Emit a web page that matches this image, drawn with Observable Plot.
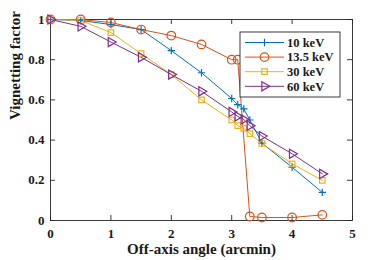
<!DOCTYPE html>
<html><head><meta charset="utf-8">
<script src="https://cdn.jsdelivr.net/npm/d3@7"></script>
<script src="https://cdn.jsdelivr.net/npm/@observablehq/plot@0.6"></script>
<style>
html,body{margin:0;padding:0;background:#fff;}
#chart{width:390px;height:260px;}
#chart svg, #chart svg text { font-family: "Liberation Serif", "DejaVu Serif", serif !important; font-weight: bold; }
</style></head><body><div id="chart"></div>
<script>
// ---- data ----
const series = ["10 keV", "13.5 keV", "30 keV", "60 keV"];
const angles10 = [0, 0.5, 1, 1.5, 2, 2.5, 3, 3.1, 3.2, 3.3, 3.5, 4, 4.5];
const vign10   = [1, 0.995, 0.975, 0.95, 0.845, 0.735, 0.607, 0.576, 0.555, 0.50, 0.385, 0.265, 0.14];
const angles13 = [0, 0.5, 1, 1.5, 2, 2.5, 3, 3.1, 3.3, 3.5, 4, 4.5];
const vign13   = [1, 1.0, 0.985, 0.95, 0.92, 0.876, 0.80, 0.80, 0.02, 0.015, 0.015, 0.028];
const angles30 = [0, 0.5, 1, 1.5, 2, 2.5, 3, 3.1, 3.2, 3.3, 3.5, 4, 4.5];
const vign30   = [1, 0.995, 0.935, 0.83, 0.726, 0.60, 0.50, 0.472, 0.458, 0.432, 0.383, 0.282, 0.20];
const angles60 = [0, 0.5, 1, 1.5, 2, 2.5, 3, 3.1, 3.2, 3.3, 3.5, 4, 4.5];
const vign60   = [1, 0.966, 0.888, 0.812, 0.726, 0.643, 0.54, 0.518, 0.503, 0.472, 0.42, 0.332, 0.232];
const xTicks = [0, 1, 2, 3, 4, 5];
const yTicks = [0, 0.2, 0.4, 0.6, 0.8, 1];

// ---- styles ----
const colors = ["#0072BD", "#D95319", "#EDB120", "#7E2F8E"];
const symbols = ["plus", "circle", "square", "triangle"];
const radii = [2.5, 4.3, 3.1, 3.4];
const rotations = [0, 0, 0, 90];
const axisColor = "#262626";
const serif = '"Liberation Serif", "DejaVu Serif", serif';

const W = 390, H = 260, mL = 50, mR = 38, mT = 19, mB = 40;
const innerW = W - mL - mR, innerH = H - mT - mB, tickLen = 5;

const rows = [];
[[angles10, vign10], [angles13, vign13], [angles30, vign30], [angles60, vign60]].forEach(([a, v], i) => {
  a.forEach((x, j) => rows.push({series: series[i], angle: x, value: v[j]}));
});

const dotMarks = series.map((s, i) => Plot.dot(rows.filter(d => d.series === s), {
  x: "angle", y: "value", symbol: () => symbols[i], r: radii[i], rotate: rotations[i],
  stroke: colors[i], fill: "none", strokeWidth: 1.2
}));

const svg = Plot.plot({
  width: W, height: H,
  marginLeft: mL, marginRight: mR, marginTop: mT, marginBottom: mB,
  style: {fontFamily: serif, fontSize: "13px", fontWeight: "bold", color: "#1a1a1a", background: "white"},
  x: {domain: [0, 5]},
  y: {domain: [0, 1]},
  color: {domain: series, range: colors},
  symbol: {domain: symbols, range: symbols},
  marks: [
    Plot.frame({stroke: axisColor, strokeWidth: 0.9}),
    Plot.ruleX(xTicks, {x: d => d, insetTop: innerH - tickLen, stroke: axisColor, strokeWidth: 0.9}),
    Plot.ruleX(xTicks, {x: d => d, insetBottom: innerH - tickLen, stroke: axisColor, strokeWidth: 0.9}),
    Plot.ruleY(yTicks, {y: d => d, insetRight: innerW - tickLen, stroke: axisColor, strokeWidth: 0.9}),
    Plot.ruleY(yTicks, {y: d => d, insetLeft: innerW - tickLen, stroke: axisColor, strokeWidth: 0.9}),
    Plot.axisX({ticks: xTicks, tickSize: 0, tickPadding: 8, tickFormat: d => String(d), label: null, fontSize: 13}),
    Plot.axisY({ticks: yTicks, tickSize: 0, tickPadding: 6, tickFormat: d => String(d), label: null, fontSize: 13}),
    Plot.line(rows, {x: "angle", y: "value", stroke: "series", strokeWidth: 1}),
    ...dotMarks,
    Plot.text(["Off-axis angle (arcmin)"], {frameAnchor: "bottom", dy: 33, fontSize: 15, fontWeight: "bold", fill: "#1a1a1a"}),
    Plot.text(["Vignetting factor"], {frameAnchor: "left", dx: -35, rotate: -90, fontSize: 15, fontWeight: "bold", fill: "#1a1a1a"})
  ]
});
document.getElementById("chart").appendChild(svg);

// ---- legend box (inside the axes, top-right) ----
const lg = d3.select(svg).append("g").attr("text-anchor", "start");
const bx = 240, by = 32, bw = 100, bh = 65, rowH = 14.6, row0 = 42.5;
lg.append("rect").attr("x", bx).attr("y", by).attr("width", bw).attr("height", bh)
  .attr("fill", "white").attr("stroke", axisColor).attr("stroke-width", 0.9);
const plotSym = {plus: d3.symbolPlus, circle: d3.symbolCircle, square: d3.symbolSquare, triangle: d3.symbolTriangle};
series.forEach((s, i) => {
  const y = row0 + i * rowH;
  lg.append("line").attr("x1", 245).attr("x2", 284).attr("y1", y).attr("y2", y)
    .attr("stroke", colors[i]).attr("stroke-width", 1);
  lg.append("path").attr("d", d3.symbol(plotSym[symbols[i]], radii[i] * radii[i] * Math.PI)())
    .attr("transform", `translate(264.5,${y}) rotate(${rotations[i]})`)
    .attr("fill", "none").attr("stroke", colors[i]).attr("stroke-width", 1.2);
  lg.append("text").attr("x", 287).attr("y", y).attr("dy", "0.35em").attr("text-anchor", "start")
    .attr("font-size", 12.5).attr("font-weight", "bold").attr("font-family", serif)
    .attr("fill", "#1a1a1a").text(s);
});
</script></body></html>
